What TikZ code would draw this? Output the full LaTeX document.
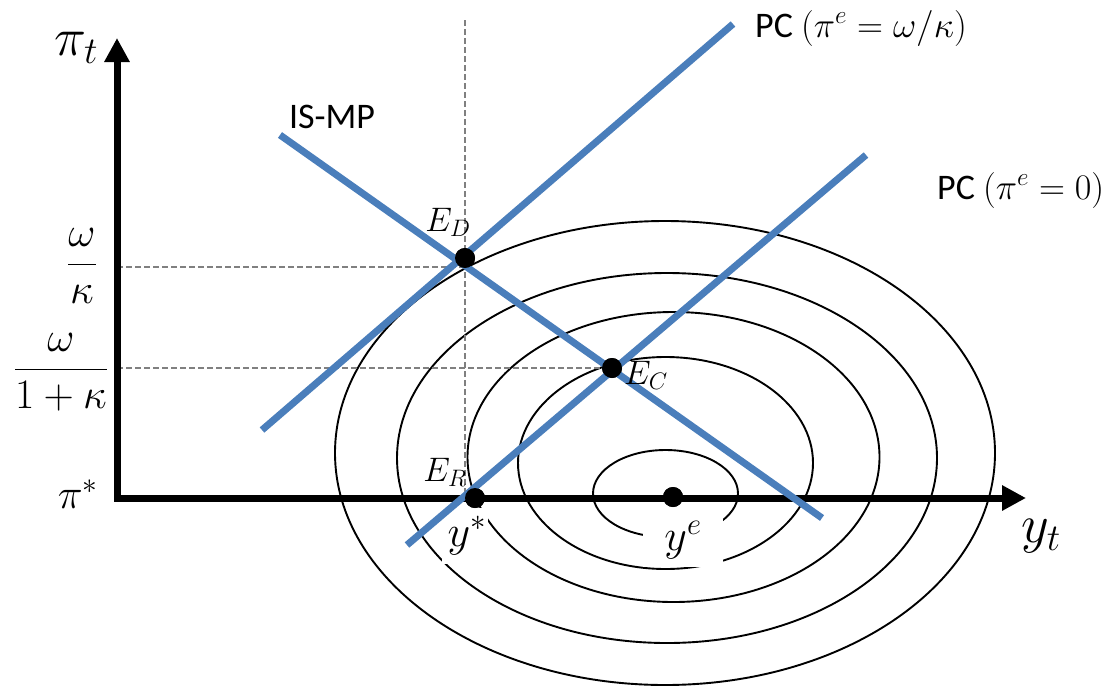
\documentclass[tikz,border=0pt]{standalone}
\usepackage{fix-cm}
\usepackage[no-math]{fontspec}
\setmainfont{Carlito}
\usepackage{tikz}
\usetikzlibrary{arrows.meta}
\definecolor{curvecol}{HTML}{4A7EBB}
\definecolor{guidecol}{HTML}{808080}

\begin{document}
\begin{tikzpicture}[x=1pt,y=-1pt,
  axis/.style={line width=7pt, line join=miter, {Triangle[width=24pt,length=24pt]}-{Triangle[width=24pt,length=24pt]}},
  curve/.style={curvecol, line width=7pt},
  contour/.style={line width=1.9pt},
  guide/.style={guidecol, line width=1.3pt, dash pattern=on 6pt off 3pt},
  dot/.style={circle, fill=black, minimum size=20pt, inner sep=0pt},
  lbl/.style={font=\fontsize{36}{42}\selectfont, inner sep=0pt},
  axlbl/.style={font=\fontsize{54}{62}\selectfont, inner sep=0pt},
  ticklbl/.style={font=\fontsize{42}{48}\selectfont, inner sep=0pt},
  ptlbl/.style={font=\fontsize{34}{38}\selectfont, inner sep=0pt},
  eqlbl/.style={font=\fontsize{44}{50}\selectfont, fill=white, inner sep=0pt}]

  \useasboundingbox (0,0) rectangle (1116,686);

  % loss contours
  \foreach \cx/\cy/\rx/\ry in {665.5/493.5/72.5/43.5, 665.5/463/147.5/106, 673.5/457/206/145, 667/458/270/185, 665/453/330/232}
    \draw[contour] (\cx,\cy) ellipse [x radius=\rx*1pt, y radius=\ry*1pt];

  \node[eqlbl, text width=42pt, align=right, inner xsep=2pt, minimum height=56pt] (ystar) at (465,536) {$y^*$};
  \node[eqlbl, minimum width=80pt, minimum height=54pt] (yelbl) at (683,540) {$y^e$};

  \coordinate (O) at (117,498);
  \coordinate (pitip) at (117,38);
  \coordinate (ytip) at (1026,498);
  \coordinate (vtop) at (465,20);
  \coordinate (vbot) at (465,492);
  \coordinate (wkfoot) at (465,267);

  \node[dot] (ED) at (465,258) {};
  \node[dot] (EC) at (612,368) {};
  \node[dot] (ER) at (475,498) {};
  \node[dot] (YE) at (673,497) {};

  % guides
  \draw[guide] (vtop) -- (vbot);
  \draw[guide] (O |- wkfoot) -- (wkfoot);
  \draw[guide] (O |- EC) -- (EC);

  \draw[axis] (pitip) |- (ytip);

  % curves
  \coordinate (is0) at (280,135);
  \coordinate (is1) at (822,518);
  \coordinate (pca0) at (262,430);
  \coordinate (pca1) at (733,24);
  \coordinate (pcb0) at (407,545);
  \coordinate (pcb1) at (866,155);
  \draw[curve] (is0) -- (is1);
  \draw[curve] (pca0) -- (pca1);
  \draw[curve] (pcb0) -- (pcb1);

  \node[dot] at (ED) {};
  \node[dot] at (EC) {};
  \node[dot] at (ER) {};
  \node[dot] at (YE) {};

  \node[axlbl] (pilbl) at (76,48) {$\pi_t$};
  \node[axlbl] (ylbl) at (1041,536) {$y_t$};
  \node[ticklbl] (wk) at (82,266) {$\displaystyle\frac{\omega}{\kappa}$};
  \node[ticklbl] (w1k) at (61,372) {$\displaystyle\frac{\omega}{1+\kappa}$};
  \node[ticklbl] (pistar) at (78,494) {$\pi^*$};

  \node[lbl] (islbl) at (332,117) {IS-MP};
  \node[lbl, anchor=west] (pc1lbl) at (755,28) {PC $(\pi^e=\omega/\kappa)$};
  \node[lbl, anchor=west] (pc0lbl) at (937,190) {PC $(\pi^e=0)$};

  \node[ptlbl] (edlbl) at (448,222) {$E_D$};
  \node[ptlbl] (eclbl) at (646,375) {$E_C$};
  \node[ptlbl] (erlbl) at (445,472) {$E_R$};
\end{tikzpicture}
\end{document}
